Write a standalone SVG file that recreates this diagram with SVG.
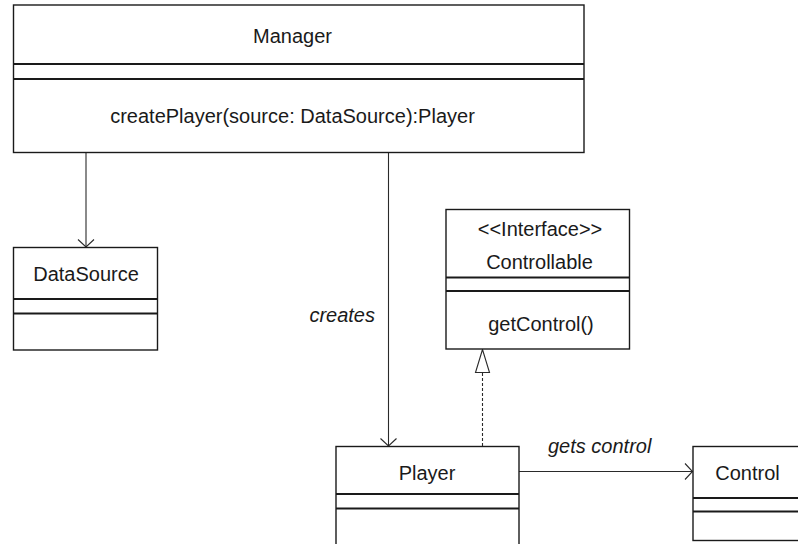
<svg xmlns="http://www.w3.org/2000/svg" width="798" height="544" viewBox="0 0 798 544">
  <style>
    .box { fill: #ffffff; stroke: #1a1a1a; stroke-width: 1.4; }
    .sep { stroke: #1a1a1a; stroke-width: 2; }
    .txt { font-family: "Liberation Sans", Arial, Helvetica, sans-serif; font-size: 20px; fill: #1a1a1a; text-anchor: middle; }
    .lbl { font-family: "Liberation Sans", Arial, Helvetica, sans-serif; font-size: 20px; font-style: italic; fill: #1a1a1a; }
    .edge { fill: none; stroke: #2a2a2a; stroke-width: 1.1; }
    .dash { stroke-dasharray: 3 2; }
  </style>
  <defs>
    <marker id="open" viewBox="-10 -10 12 20" refX="0" refY="0" markerWidth="12" markerHeight="20" markerUnits="userSpaceOnUse" orient="auto">
      <path d="M-7.5,-8 L0,0 L-7.5,8" fill="none" stroke="#2a2a2a" stroke-width="1.1"/>
    </marker>
    <marker id="realize" viewBox="-25 -9 27 18" refX="0" refY="0" markerWidth="27" markerHeight="18" markerUnits="userSpaceOnUse" orient="auto">
      <path d="M0,0 L-23,-7 L-23,7 Z" fill="#ffffff" stroke="#2a2a2a" stroke-width="1.1"/>
    </marker>
  </defs>

  <g id="connectors">
    <!-- Manager to DataSource -->
    <line class="edge" x1="86" y1="152.5" x2="86" y2="247" marker-end="url(#open)"/>
    <!-- Manager creates Player -->
    <line class="edge" x1="388.5" y1="152.5" x2="388.5" y2="446" marker-end="url(#open)"/>
    <text class="lbl" x="375" y="322" text-anchor="end">creates</text>
    <!-- Player realizes Controllable -->
    <line class="edge dash" x1="482.5" y1="446" x2="482.5" y2="349.5" marker-end="url(#realize)"/>
    <!-- Player gets control from Control -->
    <line class="edge" x1="519" y1="471.5" x2="692.5" y2="471.5" marker-end="url(#open)"/>
    <text class="lbl" x="548" y="453">gets control</text>
  </g>

  <g id="manager">
    <rect class="box" x="13.5" y="5" width="570.5" height="147.5"/>
    <line class="sep" x1="13.5" y1="64" x2="584" y2="64"/>
    <line class="sep" x1="13.5" y1="79" x2="584" y2="79"/>
    <text class="txt" x="292.5" y="42.5">Manager</text>
    <text class="txt" x="292.5" y="123">createPlayer(source: DataSource):Player</text>
  </g>

  <g id="datasource">
    <rect class="box" x="13.5" y="247.5" width="144" height="102.5"/>
    <line class="sep" x1="13.5" y1="299" x2="157.5" y2="299"/>
    <line class="sep" x1="13.5" y1="313.5" x2="157.5" y2="313.5"/>
    <text class="txt" x="86" y="280.5">DataSource</text>
  </g>

  <g id="controllable">
    <rect class="box" x="446" y="209.5" width="183.5" height="139.5"/>
    <line class="sep" x1="446" y1="277.5" x2="629.5" y2="277.5"/>
    <line class="sep" x1="446" y1="291" x2="629.5" y2="291"/>
    <text class="txt" x="540" y="236">&lt;&lt;Interface&gt;&gt;</text>
    <text class="txt" x="539.5" y="269">Controllable</text>
    <text class="txt" x="541" y="331">getControl()</text>
  </g>

  <g id="player">
    <rect class="box" x="336" y="446.5" width="183" height="120"/>
    <line class="sep" x1="336" y1="494" x2="519" y2="494"/>
    <line class="sep" x1="336" y1="508.5" x2="519" y2="508.5"/>
    <text class="txt" x="427" y="480">Player</text>
  </g>

  <g id="control">
    <rect class="box" x="693" y="446.5" width="110" height="94"/>
    <line class="sep" x1="693" y1="498" x2="803" y2="498"/>
    <line class="sep" x1="693" y1="511.5" x2="803" y2="511.5"/>
    <text class="txt" x="747.5" y="480">Control</text>
  </g>
</svg>
